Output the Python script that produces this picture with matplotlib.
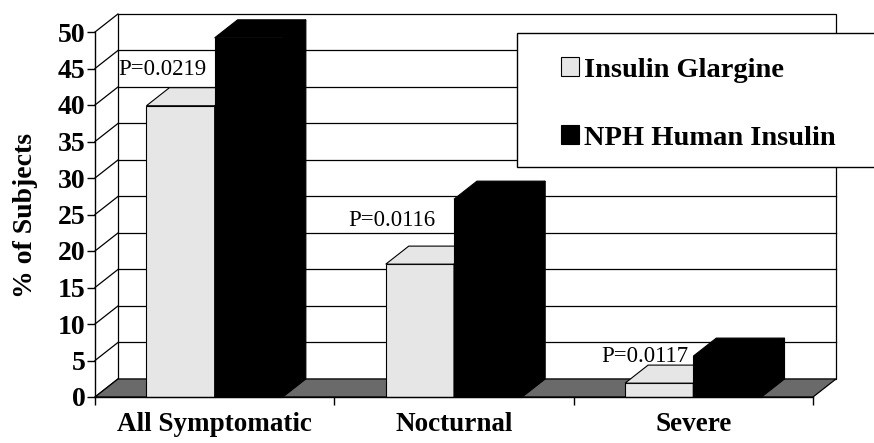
import matplotlib
matplotlib.use('Agg')
import matplotlib.pyplot as plt
from matplotlib.patches import Polygon, Rectangle, Patch

categories = ['All Symptomatic', 'Nocturnal', 'Severe']
series = ['Insulin Glargine', 'NPH Human Insulin']
glargine = [39.9, 18.2, 1.9]
nph = [49.2, 27.1, 5.6]
p_values = ['P=0.0219', 'P=0.0116', 'P=0.0117']
yticks = list(range(0, 55, 5))

# styling / layout (not data)
p_pos = [(0.282, 44.8), (1.239, 24.2), (2.298, 5.5)]
colors = ['#e6e6e6', '#000000']
floor_color = '#6a6a6a'
DX, DY = 0.096, 2.47   # depth offset in data units
W = 0.285              # bar width
SERIF = 'Liberation Serif'

fig = plt.figure(figsize=(8.74, 4.43), dpi=100)
ax = fig.add_axes([95/874, 46/443, 718/874, 365/443])
ncat = len(categories)
ax.set_xlim(0, ncat)
ax.set_ylim(yticks[0], yticks[-1])

lw = 0.9
# back wall
ax.add_patch(Rectangle((DX, DY), ncat, yticks[-1], fc='white', ec='black', lw=lw,
                       clip_on=False, zorder=1))
for v in yticks[1:-1]:
    ax.plot([DX, ncat + DX], [v + DY, v + DY], color='black', lw=lw, clip_on=False, zorder=2)
# left side wall
for v in yticks:
    ax.plot([0, DX], [v, v + DY], color='black', lw=lw, clip_on=False, zorder=2)
# floor
ax.add_patch(Polygon([(0, 0), (ncat, 0), (ncat + DX, DY), (DX, DY)], closed=True,
                     fc=floor_color, ec='black', lw=lw, clip_on=False, zorder=3))

# bars
for s, vals in enumerate([glargine, nph]):
    for i, v in enumerate(vals):
        x0 = i + 0.5 - W + s * W
        z = 4 + s
        ax.bar(x0, v, width=W, align='edge', color=colors[s], edgecolor='black',
               lw=0.8, zorder=z, clip_on=False)
        top = [(x0, v), (x0 + W, v), (x0 + W + DX, v + DY), (x0 + DX, v + DY)]
        side = [(x0 + W, 0), (x0 + W + DX, DY), (x0 + W + DX, v + DY), (x0 + W, v)]
        ax.add_patch(Polygon(top, closed=True, fc=colors[s], ec='black', lw=0.8,
                             zorder=z, clip_on=False))
        ax.add_patch(Polygon(side, closed=True, fc=colors[s], ec='black', lw=0.8,
                             zorder=z, clip_on=False))

# P-values
for txt, (px, py) in zip(p_values, p_pos):
    ax.text(px, py, txt, ha='center', va='center', fontsize=16.5, family=SERIF,
            zorder=8)

# axes / spines
for sp in ['top', 'right']:
    ax.spines[sp].set_visible(False)
ax.spines['left'].set_bounds(yticks[0], yticks[-1])
ax.spines['bottom'].set_bounds(0, ncat)
for sp in ['left', 'bottom']:
    ax.spines[sp].set_zorder(10)
    ax.spines[sp].set_linewidth(1.0)
ax.set_yticks(yticks)
ax.set_yticklabels([str(v) for v in yticks], fontsize=20, fontweight='bold', family=SERIF)
ax.tick_params(axis='y', direction='out', length=6, width=1, pad=1)
ax.set_xticks(range(ncat + 1))
ax.set_xticklabels([''] * (ncat + 1))
ax.tick_params(axis='x', which='major', direction='out', length=6, width=1)
ax.set_xticks([i + 0.5 for i in range(ncat)], minor=True)
ax.set_xticklabels(categories, minor=True, fontsize=19.5, fontweight='bold', family=SERIF)
ax.tick_params(axis='x', which='minor', length=0, pad=10.5)
ax.set_ylabel('% of Subjects', fontsize=20, fontweight='bold', family=SERIF)
ax.yaxis.set_label_coords(-0.080, 0.496)
ax.patch.set_visible(False)

# legend box
fig.add_artist(Rectangle((517/874, 1 - 167/443), 0.5, 134/443, transform=fig.transFigure,
                         fc='white', ec='black', lw=1.0, zorder=1))
handles = [Patch(fc=colors[0], ec='black', lw=0.8), Patch(fc=colors[1], ec='black', lw=0.8)]
fig.legend(handles, series, loc='center left', bbox_to_anchor=(561/874, 1 - 104/443),
           frameon=False, prop={'family': SERIF, 'weight': 'bold', 'size': 20.5},
           handlelength=0.63, handleheight=0.63, handletextpad=0.18, labelspacing=1.5,
           borderaxespad=0, borderpad=0)

fig.savefig('out.png', dpi=100)
